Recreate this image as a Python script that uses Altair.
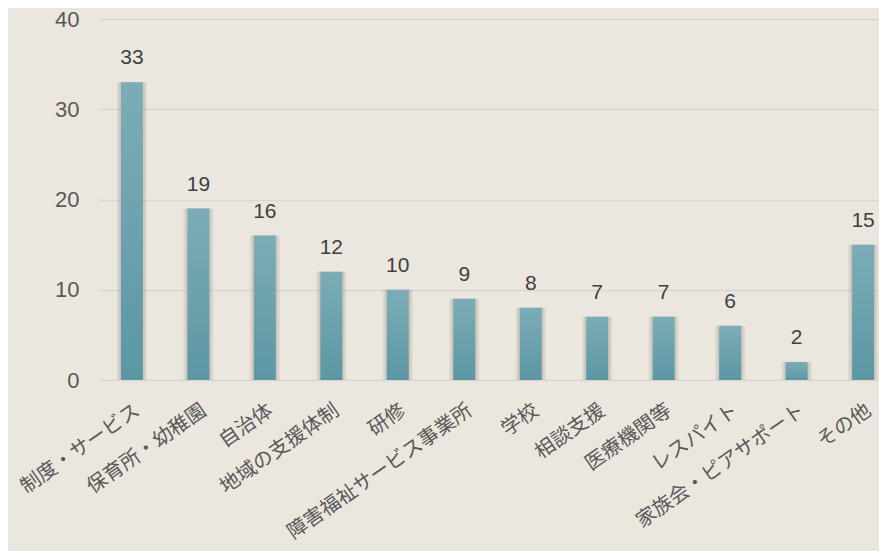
import altair as alt
import pandas as pd

categories = ["制度・サービス", "保育所・幼稚園", "自治体", "地域の支援体制", "研修",
              "障害福祉サービス事業所", "学校", "相談支援", "医療機関等", "レスパイト",
              "家族会・ピアサポート", "その他"]
values = [33, 19, 16, 12, 10, 9, 8, 7, 7, 6, 2, 15]
y_ticks = [0, 10, 20, 30, 40]

df = pd.DataFrame({"cat": categories, "val": values})

FONT_NUM = "Liberation Sans"
FONT_JP = "Noto Sans CJK JP"

x_enc = alt.X("cat:N", sort=categories, title=None,
              scale=alt.Scale(range=[0, 797], paddingInner=0.67, paddingOuter=0.33),
              axis=alt.Axis(labelAngle=-35, labelFont=FONT_JP, labelFontSize=20,
                            labelColor="#595959", labelPadding=20, ticks=False,
                            domain=False, labelAlign="right", labelBaseline="top",
                            labelLimit=400))
y_enc = alt.Y("val:Q", title=None,
              scale=alt.Scale(domain=[0, 40]),
              axis=alt.Axis(values=y_ticks, labelFont=FONT_NUM, labelFontSize=22,
                            labelColor="#595959", labelPadding=20, ticks=False,
                            domain=False, gridColor="#d9d7d6", gridWidth=1.5))

base = alt.Chart(df)

shadow1 = base.mark_bar(size=30, color="#6b6259", opacity=0.10).encode(x=x_enc, y=y_enc)
shadow2 = base.mark_bar(size=26, color="#6b6259", opacity=0.15).encode(x=x_enc, y=y_enc)

bars = base.mark_bar(
    size=22,
    color=alt.Gradient(
        gradient="linear", x1=0, y1=0, x2=0, y2=1,
        stops=[alt.GradientStop(color="#7cadb6", offset=0),
               alt.GradientStop(color="#5b97a3", offset=1)],
    ),
).encode(x=x_enc, y=y_enc)

labels = base.mark_text(dy=-14, baseline="bottom", font=FONT_NUM, fontSize=21,
                        color="#404040").encode(x=x_enc, y=y_enc, text="val:Q")

chart = alt.layer(shadow1, shadow2, bars, labels).properties(
    width=780, height=361,
    background="#ebe7de",
    padding={"left": 91, "top": 11, "right": 0, "bottom": 171},
    autosize=alt.AutoSizeParams(type="none"),
).configure_view(stroke=None)

chart.save("out.html", embed_options={"renderer": "svg", "actions": False})
